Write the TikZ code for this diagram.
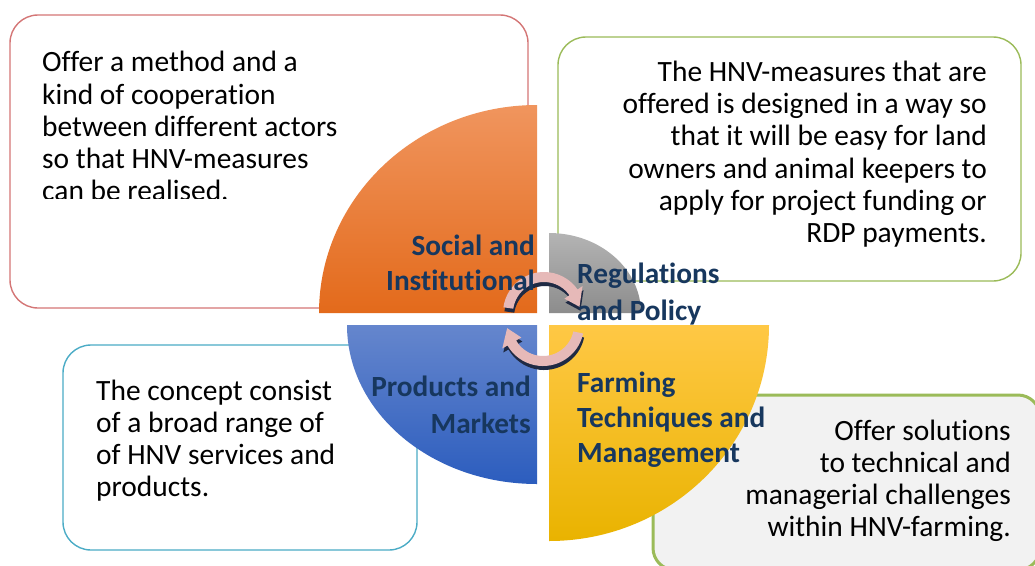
\documentclass[tikz,border=0pt]{standalone}
\usepackage{fontspec}
\setmainfont{Carlito}[Ligatures=NoCommon]
\usetikzlibrary{calc}
\definecolor{boxred}{HTML}{D47676}
\definecolor{boxgreen}{HTML}{9BBB59}
\definecolor{boxteal}{HTML}{4BACC6}
\definecolor{boxgrey}{HTML}{F2F2F2}
\definecolor{lblcol}{HTML}{17375E}
\definecolor{arrpink}{HTML}{E6B9B8}
\definecolor{arrdark}{HTML}{1F2A44}
\definecolor{orgtop}{HTML}{F0955E}
\definecolor{orgbot}{HTML}{E36A1B}
\definecolor{grytop}{HTML}{B4B4B4}
\definecolor{grybot}{HTML}{8C8C8C}
\definecolor{blutop}{HTML}{6586CD}
\definecolor{blubot}{HTML}{2C5DBE}
\definecolor{yeltop}{HTML}{FFC845}
\definecolor{yelbot}{HTML}{E9B300}
\newcommand\cycarrow[5]{%
  \path[#5] ($#1+(#2:41)$) arc[start angle=#2,end angle=#3,radius=41]
    -- ($#1+(#3:47)$) -- ($#1+(#4:36)$) -- ($#1+(#3:25)$)
    -- ($#1+(#3:31)$) arc[start angle=#3,end angle=#2,radius=31] -- cycle;}
\begin{document}
\begin{tikzpicture}[x=1pt,y=-1pt,
  body/.style={font=\fontsize{29.45}{32}\selectfont, inner sep=0pt, text=black},
  lab/.style={font=\fontsize{29.3}{35}\selectfont\bfseries, inner sep=0pt, text=lblcol},
  tbox/.style={rounded corners=28pt, line width=1.4pt},
  arrfill/.style={fill=arrpink},
  arrshadow/.style={fill=arrdark, shift={(1,4)}}]
\useasboundingbox (0,0) rectangle (1035,565);
\clip (0,0) rectangle (1035,565);
\fill[white] (0,0) rectangle (1035,565);

% text boxes
\draw[tbox, draw=boxred, fill=white] (10,15) rectangle (528,308);
\draw[tbox, draw=boxgreen, fill=white] (558,37) rectangle (1021,281);
\draw[tbox, draw=boxteal, fill=white] (63,345) rectangle (417,550);
\draw[tbox, rounded corners=22pt, draw=boxgreen, line width=3pt, fill=boxgrey] (653,395) rectangle (1040,570);

% quadrants
\shade[top color=orgtop, bottom color=orgbot] (537,313) -- (319,313)
  arc[start angle=180,end angle=270,x radius=218,y radius=208] -- cycle;
\shade[top color=grytop, bottom color=grybot] (549,313) -- (549,233)
  arc[start angle=270,end angle=360,x radius=92,y radius=80] -- cycle;
\shade[top color=yeltop, bottom color=yelbot] (549,325) -- (769,325)
  arc[start angle=0,end angle=90,x radius=220,y radius=216] -- cycle;
\shade[top color=blutop, bottom color=blubot] (537,325) -- (537,484)
  arc[start angle=90,end angle=180,x radius=190,y radius=159] -- cycle;

% circular arrows
\cycarrow{(544,313)}{188}{325}{350}{arrshadow}
\cycarrow{(544,313)}{188}{325}{350}{arrfill}
\cycarrow{(543,325)}{12}{150}{175}{arrshadow}
\cycarrow{(543,325)}{12}{150}{175}{arrfill}

% quadrant labels
\node[lab, anchor=base east] (l1a) at (535,255) {Social and};
\node[lab, anchor=base east] (l1b) at (535,290) {Institutional};
\node[lab, anchor=base west] (l2a) at (577,283) {Regulations};
\node[lab, anchor=base west] (l2b) at (577,320) {and Policy};
\node[lab, anchor=base east] (l3a) at (531,396) {Products and};
\node[lab, anchor=base east] (l3b) at (531,433) {Markets};
\node[lab, anchor=base west] (l4a) at (577,392) {Farming};
\node[lab, anchor=base west] (l4b) at (577,427) {Techniques and};
\node[lab, anchor=base west] (l4c) at (577,462) {Management};

% box texts
\begin{scope}
\clip (0,0) rectangle (1035,198.5);
\node[body, anchor=base west] (a1) at (42,71.7) {Offer a method and a};
\node[body, anchor=base west] (a2) at (42,104) {kind of cooperation};
\node[body, anchor=base west] (a3) at (42,136) {between different actors};
\node[body, anchor=base west] (a4) at (42,168) {so that HNV-measures};
\node[body, anchor=base west] (a5) at (42,200) {can be realised.};
\end{scope}

\node[body, anchor=base east] (b1) at (987,81.7) {The HNV-measures that are};
\node[body, anchor=base east] (b2) at (987,113.8) {offered is designed in a way so};
\node[body, anchor=base east] (b3) at (987,145.9) {that it will be easy for land};
\node[body, anchor=base east] (b4) at (987,178) {owners and animal keepers to};
\node[body, anchor=base east] (b5) at (987,210.1) {apply for project funding or};
\node[body, anchor=base east] (b6) at (987,242.3) {RDP payments.};

\node[body, anchor=base west] (c1) at (96,400.7) {The concept consist};
\node[body, anchor=base west] (c2) at (96,432.7) {of a broad range of};
\node[body, anchor=base west] (c3) at (96,464.7) {of HNV services and};
\node[body, anchor=base west] (c4) at (96,496.7) {products.};

\node[body, anchor=base east] (d1) at (1011,440) {Offer solutions};
\node[body, anchor=base east] (d2) at (1011,472) {to technical and};
\node[body, anchor=base east] (d3) at (1011,504) {managerial challenges};
\node[body, anchor=base east] (d4) at (1011,536) {within HNV-farming.};
\end{tikzpicture}
\end{document}
